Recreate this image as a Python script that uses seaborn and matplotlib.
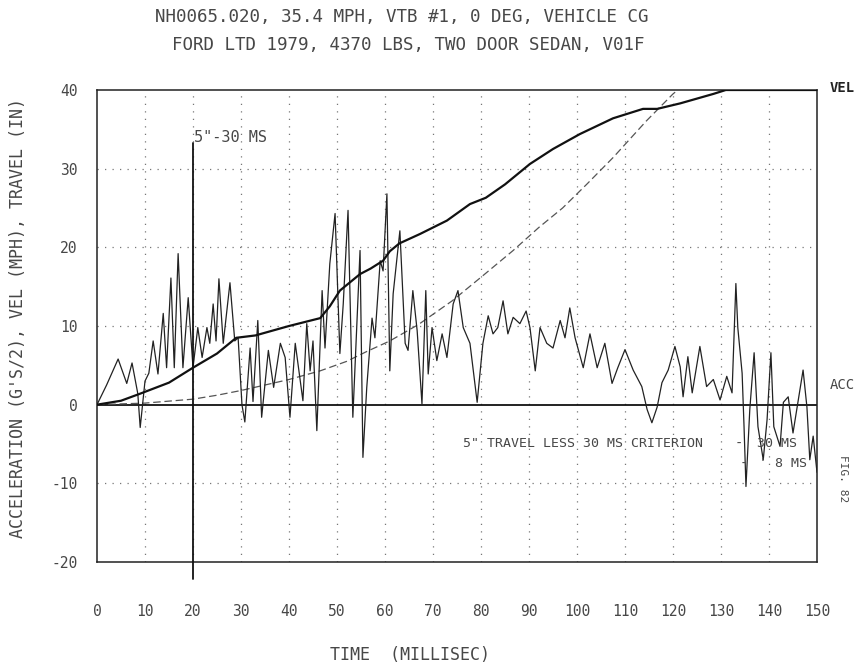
import numpy as np
import pandas as pd
import matplotlib
matplotlib.use("Agg")
import matplotlib.pyplot as plt
import seaborn as sns

# ---------------- data ----------------
acc_t = [0, 2, 4.4, 6.2, 7.3, 8.5, 9, 10, 10.8, 11.7, 12.7, 13.8, 14.5, 15.4, 16.1, 16.9,
         17.9, 19, 20, 21, 21.9, 22.9, 23.5, 24.2, 24.8, 25.4, 26.3, 27.7, 28.7, 29.4,
         30.2, 30.8, 31.9, 32.5, 33.5, 34.3, 35.7, 36.8, 38.2, 39.2, 40.2, 41.3, 42.9,
         43.7, 44.4, 45, 45.8, 46.9, 47.5, 48.5, 49.6, 50.6, 51.3, 52.3, 53.3, 54.8, 55.4,
         56.2, 57.3, 57.9, 59, 59.6, 60.4, 61, 61.7, 63.1, 64.2, 64.8, 65.8, 66.7, 67.7,
         68.5, 69, 69.8, 70.8, 71.9, 72.9, 74.2, 75.2, 76.3, 77.7, 79.2, 80.4, 81.5, 82.5,
         83.5, 84.6, 85.6, 86.7, 88.1, 89.4, 90.2, 91.3, 92.3, 93.7, 95, 96.5, 97.5, 98.5,
         99.6, 101.3, 102.7, 104.2, 105.8, 107.3, 108.5, 110, 111.7, 113.5, 114.6, 115.6,
         116.7, 117.7, 119, 120.4, 121.5, 122.1, 123.1, 124, 125.6, 127, 128.4, 129.8,
         131.2, 132.3, 133.1, 133.5, 134.4, 134.8, 135.2, 136, 136.9, 137.7, 138.8, 139.6,
         140.4, 141, 142.3, 143, 144, 145, 146.1, 147.1, 147.9, 148.5, 149.2, 150]
acc_g = [0, 2.5, 5.8, 2.7, 5.3, 1.4, -2.9, 3, 4, 8.1, 3.9, 11.6, 4.7, 16.1, 4.7, 19.2,
         4.7, 13.6, 4.7, 9.8, 6, 9.8, 7.8, 12.8, 8.1, 16, 7.8, 15.5, 8.1, 8.5,
         0, -2.2, 7.2, 0.4, 10.7, -1.6, 6.9, 2.2, 7.8, 6, -1.6, 7.8, 0.5,
         10.3, 4.3, 8.1, -3.3, 14.5, 7.2, 17.9, 24.3, 6.5, 12.8, 24.7, -1.6, 19.6, -6.7,
         2.2, 11, 8.5, 18.3, 17, 26.8, 4.3, 14.1, 22.1, 7.8, 6.9, 14.5, 9.4, 0.1,
         14.5, 3.9, 9.8, 5.6, 9, 6, 12.8, 14.5, 9.8, 7.8, 0.3, 7.8, 11.3, 9,
         9.8, 13.2, 9, 11.1, 10.3, 11.9, 9.8, 4.3, 9.8, 7.8, 7.2, 10.7, 8.5, 12.3,
         8.5, 4.7, 9, 4.7, 7.8, 2.7, 4.7, 7, 4.4, 2.3, -0.6, -2.3,
         -0.3, 2.8, 4.4, 7.4, 4.8, 1, 6.1, 1.5, 7.4, 2.3, 3.2, 0.6,
         3.6, 1.5, 15.4, 9.8, 4, -2.8, -10.4, -0.6, 6.6, -2.8, -7, -1.9,
         6.6, -2.8, -5.3, 0.3, 1, -3.6, 0.6, 4.4, -0.3, -7, -4, -8.6]

vel_t = [0, 5, 9, 15, 20, 25, 29, 33, 40, 46.5, 48.5, 50.6, 54.8, 57, 59.6, 61, 63, 67.3,
         72.9, 77.7, 81, 85, 90.2, 95, 100.6, 107.5, 113.75, 116.7, 121.5, 128.4, 131, 150]
vel_v = [0, 0.5, 1.4, 2.8, 4.7, 6.5, 8.5, 8.8, 10, 11, 12.5, 14.5, 16.6, 17.3, 18.3, 19.5,
         20.5, 21.7, 23.4, 25.5, 26.3, 28, 30.6, 32.5, 34.4, 36.4, 37.6, 37.6, 38.3, 39.5,
         40, 40]

trav_t = [0, 10, 20, 25, 30, 35, 40, 46.5, 52, 56, 61, 67, 74, 80, 86.7, 92, 97, 102,
          107.5, 114.5, 120, 121]
trav_x = [0, 0.2, 0.7, 1.2, 1.8, 2.5, 3.2, 4.3, 5.5, 6.7, 8.1, 10.2, 13.2, 16.2, 19.6,
          22.5, 25, 28, 31.4, 36.1, 39.5, 40]

x_ticks = list(range(0, 151, 10))
y_ticks = [-20, -10, 0, 10, 20, 30, 40]

marker_t = 20
marker_top = 33.2
marker_bottom = -22.2

title_1 = "NH0065.020, 35.4 MPH, VTB #1, 0 DEG, VEHICLE CG"
title_2 = "FORD LTD 1979, 4370 LBS, TWO DOOR SEDAN, V01F"

# ---------------- style ----------------
sns.set_theme(style="white")
plt.rcParams['font.family'] = ['DejaVu Sans Mono', 'DejaVu Sans']
txt_col = "#474747"

fig = plt.figure(figsize=(8.66, 6.69), dpi=100)
ax = fig.add_axes([97/866, 107/669, 720/866, 472/669])

acc_df = pd.DataFrame({"t": acc_t, "v": acc_g})
vel_df = pd.DataFrame({"t": vel_t, "v": vel_v})
trav_df = pd.DataFrame({"t": trav_t, "v": trav_x})

# grid (dotted)
for gx in x_ticks[1:-1]:
    ax.axvline(gx, color="#777777", lw=0.9, ls=(0, (1, 5)), zorder=0)
for gy in [-10, 10, 20, 30]:
    ax.axhline(gy, color="#777777", lw=0.9, ls=(0, (1, 5)), zorder=0)
ax.axhline(0, color="#111111", lw=1.3, zorder=1)

sns.lineplot(data=trav_df, x="t", y="v", ax=ax, color="#555555", lw=0.9,
             dashes=False, linestyle=(0, (6, 3)), zorder=2)
sns.lineplot(data=acc_df, x="t", y="v", ax=ax, color="#222222", lw=0.9, zorder=3)
sns.lineplot(data=vel_df, x="t", y="v", ax=ax, color="#111111", lw=1.6, zorder=4)

# 5" - 30 ms marker line
ax.plot([marker_t, marker_t], [marker_bottom, marker_top], color="#111111",
        lw=1.3, clip_on=False, zorder=5)
ax.text(marker_t + 0.3, marker_top + 0.7, "5\"-30 MS", fontsize=11, color=txt_col,
        ha="left", va="center")

ax.set_xlim(0, 150)
ax.set_ylim(-20, 40)
ax.set_xticks(x_ticks)
ax.set_yticks(y_ticks)
ax.set_xticklabels([str(v) for v in x_ticks], fontsize=10.5, color=txt_col)
ax.set_yticklabels([str(v) for v in y_ticks], fontsize=10.5, color=txt_col)
ax.tick_params(axis="x", length=0, pad=30)
ax.tick_params(axis="y", length=0, pad=14)
ax.set_xlabel("")
ax.set_ylabel("")
for s in ax.spines.values():
    s.set_color("#222222")
    s.set_linewidth(1.1)
    s.set_visible(True)

# annotations
ax.text(76.2, -4.96, "5\" TRAVEL LESS 30 MS CRITERION", fontsize=9.5, color=txt_col,
        ha="left", va="center")
ax.text(132.9, -4.96, "-", fontsize=10, color=txt_col, ha="left", va="center")
ax.text(137.6, -4.96, "30 MS", fontsize=9.5, color=txt_col, ha="left", va="center")
ax.text(133.8, -7.5, "-", fontsize=10, color=txt_col, ha="left", va="center")
ax.text(137.9, -7.5, "' 8 MS", fontsize=9.5, color=txt_col, ha="left", va="center")

ax.text(152.7, 40.3, "VEL", fontsize=10, color="#222222", ha="left", va="center",
        clip_on=False, fontweight="bold")
ax.text(152.7, 2.5, "ACC", fontsize=10, color=txt_col, ha="left", va="center",
        clip_on=False)
ax.text(155.4, -9.4, "FIG. 82", fontsize=8, color=txt_col, ha="center", va="center",
        rotation=270, clip_on=False)

fig.text(402/866, 1 - 17/669, title_1, fontsize=12.6, color=txt_col, ha="center", va="center")
fig.text(408/866, 1 - 45/669, title_2, fontsize=12.6, color=txt_col, ha="center", va="center")
fig.text(18/866, 1 - 318/669, "ACCELERATION (G'S/2), VEL (MPH), TRAVEL (IN)", fontsize=12,
         color=txt_col, ha="center", va="center", rotation=90)
fig.text(410/866, 1 - 655/669, "TIME  (MILLISEC)", fontsize=12, color=txt_col,
         ha="center", va="center")

fig.savefig("out.png", dpi=100, facecolor="white")
